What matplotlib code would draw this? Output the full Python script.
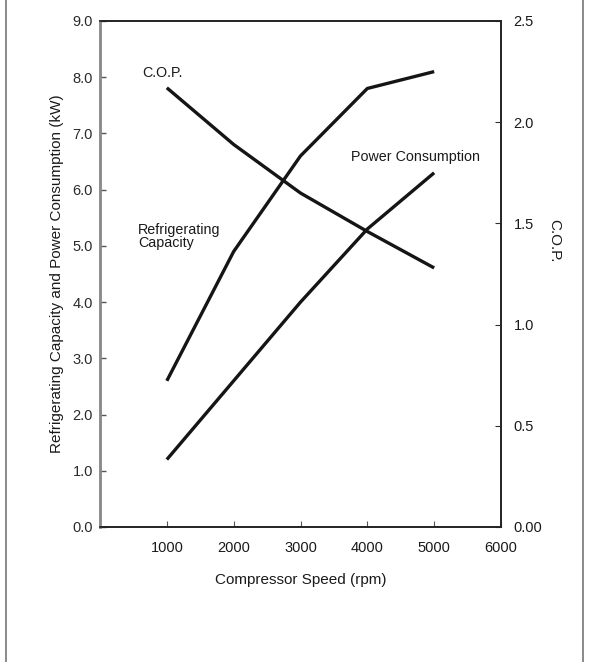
import matplotlib
matplotlib.use("Agg")
import matplotlib.pyplot as plt
from matplotlib.lines import Line2D

plt.rcParams['font.family'] = ['Liberation Sans', 'DejaVu Sans']

speed = [1000, 2000, 3000, 4000, 5000]
refrig_capacity = [2.6, 4.9, 6.6, 7.8, 8.1]
power_consumption = [1.2, 2.6, 4.0, 5.3, 6.3]
cop = [2.17, 1.89, 1.65, 1.46, 1.28]

left_ticks = [0, 1, 2, 3, 4, 5, 6, 7, 8, 9]
left_labels = ["0.0", "1.0", "2.0", "3.0", "4.0", "5.0", "6.0", "7.0", "8.0", "9.0"]
right_ticks = [0, 0.5, 1.0, 1.5, 2.0, 2.5]
right_labels = ["0.00", "0.5", "1.0", "1.5", "2.0", "2.5"]
x_ticks = [1000, 2000, 3000, 4000, 5000, 6000]
x_labels = ["1000", "2000", "3000", "4000", "5000", "6000"]

W, H = 595, 662
fig = plt.figure(figsize=(W / 100, H / 100), dpi=100)
ax = fig.add_axes([100 / W, 1 - 527 / H, 401 / W, 506 / H])
ax2 = ax.twinx()

lw = 2.4
ax.plot(speed, refrig_capacity, color='#151515', lw=lw, solid_capstyle='butt')
ax.plot(speed, power_consumption, color='#151515', lw=lw, solid_capstyle='butt')
ax2.plot(speed, cop, color='#151515', lw=lw, solid_capstyle='butt')

ax.set_xlim(0, 6000)
ax.set_ylim(0, 9)
ax2.set_ylim(0, 2.5)

fs = 10.5
ax.set_yticks(left_ticks)
ax.set_yticklabels(left_labels, fontsize=fs, color='#2a2a2a')
ax.set_xticks(x_ticks)
ax.set_xticklabels(x_labels, fontsize=fs, color='#1a1a1a')
ax2.set_yticks(right_ticks)
ax2.set_yticklabels(right_labels, fontsize=fs, color='#1a1a1a')

ax.tick_params(axis='y', direction='in', length=4, width=1, color='#555555', pad=5)
ax.tick_params(axis='x', direction='in', length=4, width=0.8, color='#555555', pad=10)
ax2.tick_params(axis='y', direction='in', length=4, width=0.8, color='#333333', pad=9)

for a in (ax, ax2):
    for s in ['top', 'right', 'bottom']:
        a.spines[s].set_color('#222222')
        a.spines[s].set_linewidth(1.2)
    a.spines['left'].set_color('#8a8a8a')
    a.spines['left'].set_linewidth(1.8)

lfs = 11
ax.set_ylabel("Refrigerating Capacity and Power Consumption (kW)", fontsize=lfs, color='#1a1a1a')
ax.yaxis.set_label_coords(-0.09, 0.5)
ax.set_xlabel("Compressor Speed (rpm)", fontsize=lfs, color='#1a1a1a')
ax.xaxis.set_label_coords(0.5, -0.09)
ax2.set_ylabel("C.O.P.", fontsize=lfs, color='#1a1a1a', rotation=-90)
ax2.yaxis.set_label_coords(1.15, 0.565)

tc = '#1a1a1a'
afs = 10.3
ax.text(630, 8.08, "C.O.P.", fontsize=afs, color=tc, va='center', ha='left')
ax.text(3760, 6.58, "Power Consumption", fontsize=afs, color=tc, va='center', ha='left')
ax.text(570, 5.16, "Refrigerating\nCapacity", fontsize=afs, color=tc, va='center', ha='left',
        linespacing=0.9)

# outer frame lines
fig.add_artist(Line2D([6 / W, 6 / W], [0, 1], color='#777777', lw=1.2))
fig.add_artist(Line2D([583 / W, 583 / W], [0, 1], color='#777777', lw=1.2))

fig.savefig("out.png", dpi=100)
